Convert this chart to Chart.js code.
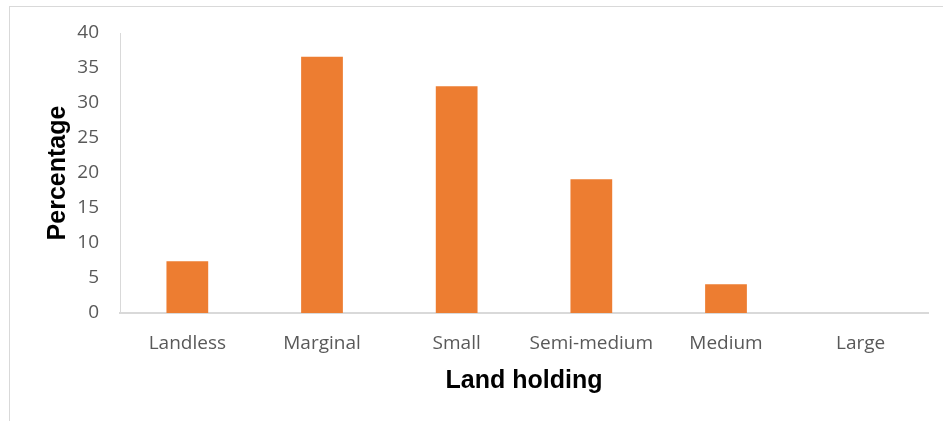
<!DOCTYPE html>
<html>
<head>
<meta charset="utf-8">
<script src="https://cdn.jsdelivr.net/npm/chart.js@4/dist/chart.umd.min.js"></script>
<style>
  html, body { margin: 0; padding: 0; background: #fff; }
  #wrap { position: relative; width: 943px; height: 421px; }
  #frame { position: absolute; left: 9px; top: 6px; right: -5px; bottom: -5px; border: 1px solid #d9d9d9; }
  #chart { position: absolute; left: 0; top: 0; }
</style>
</head>
<body>
<div id="wrap">
  <div id="frame"></div>
  <canvas id="chart" width="943" height="421"></canvas>
</div>
<script>
// land holding categories and share of households (%)
const categories = ['Landless', 'Marginal', 'Small', 'Semi-medium', 'Medium', 'Large'];
const percentages = [7.4, 36.6, 32.4, 19.1, 4.1, 0];
const yTicks = [0, 5, 10, 15, 20, 25, 30, 35, 40];

const tickFont = { family: '"Open Sans", sans-serif', size: 19 };
const titleFont = { family: '"Liberation Sans", Arial, sans-serif', size: 25, weight: 'bold' };

new Chart(document.getElementById('chart'), {
    type: 'bar',
    data: {
        labels: categories,
        datasets: [{
            data: percentages,
            backgroundColor: '#ED7D31',
            barPercentage: 0.31,
            categoryPercentage: 1
        }]
    },
    options: {
        responsive: false,
        animation: false,
        layout: { padding: { left: 0, top: 33, right: 15, bottom: 0 } },
        plugins: { legend: { display: false }, tooltip: { enabled: false } },
        scales: {
            x: {
                grid: { display: false, drawTicks: false },
                border: { color: '#d9d9d9', width: 2 },
                ticks: { color: '#595959', font: tickFont, padding: 19, maxRotation: 0 },
                title: { display: true, text: 'Land holding', color: '#000', font: titleFont, padding: { top: 0, bottom: 25 } },
                afterFit: scale => { scale.height = 108; }
            },
            y: {
                min: 0,
                max: 40,
                grid: { display: false, drawTicks: false },
                border: { color: '#d9d9d9', width: 1 },
                afterBuildTicks: scale => { scale.ticks = yTicks.map(v => ({ value: v })); },
                ticks: { color: '#595959', font: tickFont, padding: 21 },
                title: { display: true, text: 'Percentage', color: '#000', font: titleFont, padding: { top: 43, bottom: 0 } },
                afterFit: scale => { scale.width = 120; }
            }
        }
    }
});
</script>
</body>
</html>
